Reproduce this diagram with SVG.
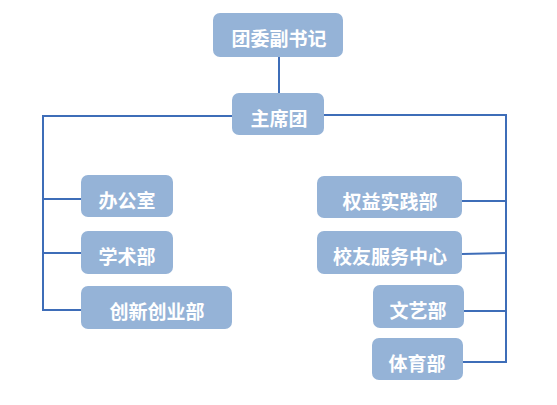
<svg xmlns="http://www.w3.org/2000/svg" width="557" height="405" viewBox="0 0 557 405">
<style>
.box{fill:#95B3D7}
.t{fill:#fff;font-family:"Liberation Sans","Noto Sans CJK SC",sans-serif;font-size:19px;font-weight:bold;text-anchor:middle}
.c{fill:none;stroke:#3E6DB8;stroke-width:2}
</style>
<rect width="557" height="405" fill="#fff"/>
<g id="connectors">
<line class="c" x1="279" y1="57" x2="279" y2="93"/>
<polyline class="c" points="232,116 43,116 43,310 81,310"/>
<line class="c" x1="43" y1="199" x2="81" y2="199"/>
<line class="c" x1="43" y1="253" x2="81" y2="253"/>
<polyline class="c" points="324,115 506,115 506,362 463,362"/>
<line class="c" x1="462" y1="201" x2="506" y2="201"/>
<line class="c" x1="462" y1="254" x2="506" y2="253"/>
<line class="c" x1="464" y1="311" x2="506" y2="311"/>
</g>
<g id="n1"><rect class="box" x="213" y="13" width="130" height="44" rx="7"/><text class="t" x="279" y="46">团委副书记</text></g>
<g id="n2"><rect class="box" x="232" y="93" width="92" height="42" rx="7"/><text class="t" x="279" y="126">主席团</text></g>
<g id="n3"><rect class="box" x="81" y="175" width="92" height="42" rx="7"/><text class="t" x="127" y="208">办公室</text></g>
<g id="n4"><rect class="box" x="81" y="231" width="92" height="43" rx="7"/><text class="t" x="127" y="264">学术部</text></g>
<g id="n5"><rect class="box" x="81" y="286" width="151" height="43" rx="7"/><text class="t" x="157" y="319">创新创业部</text></g>
<g id="n6"><rect class="box" x="317" y="176" width="145" height="42" rx="7"/><text class="t" x="390" y="209">权益实践部</text></g>
<g id="n7"><rect class="box" x="317" y="231" width="145" height="43" rx="7"/><text class="t" x="390" y="264">校友服务中心</text></g>
<g id="n8"><rect class="box" x="373" y="285" width="91" height="43" rx="7"/><text class="t" x="418" y="318">文艺部</text></g>
<g id="n9"><rect class="box" x="372" y="338" width="91" height="42" rx="7"/><text class="t" x="417" y="371">体育部</text></g>
</svg>
